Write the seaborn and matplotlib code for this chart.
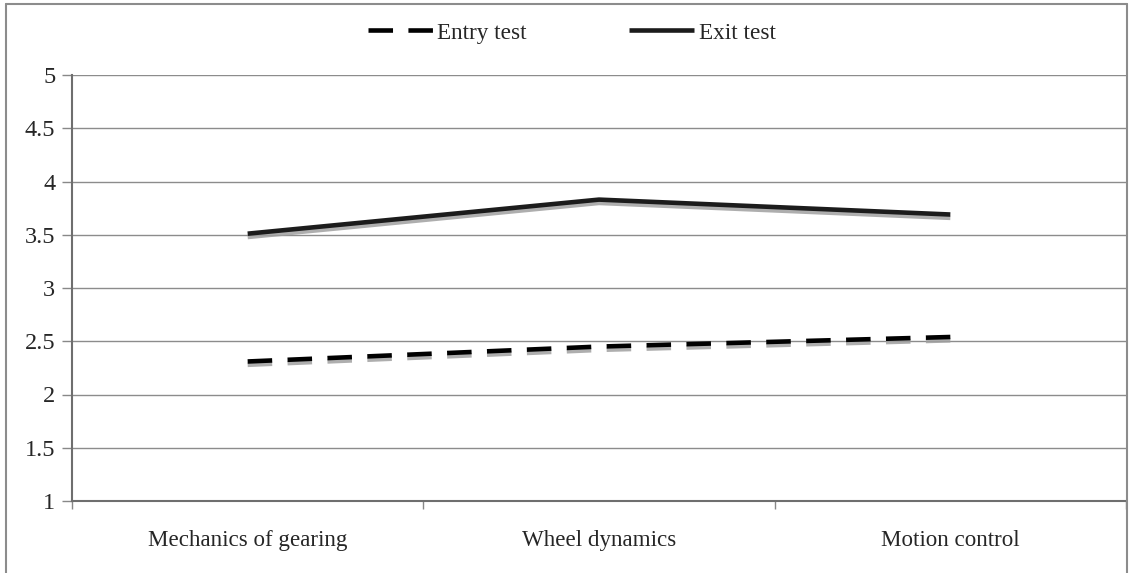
import pandas as pd
import matplotlib.pyplot as plt
import matplotlib.patheffects as pe
from matplotlib.lines import Line2D
import seaborn as sns

# Datos
categorias = ['Mechanics of gearing', 'Wheel dynamics', 'Motion control']
entry_test = [2.31, 2.45, 2.54]
exit_test = [3.51, 3.83, 3.69]

df = pd.DataFrame({
    'cat': categorias * 2,
    'valor': entry_test + exit_test,
    'serie': ['Entry test'] * 3 + ['Exit test'] * 3,
})

sns.set_style('white')
plt.rcParams['font.family'] = ['Liberation Serif', 'DejaVu Serif']

fig = plt.figure(figsize=(11.39, 5.73), dpi=100)
ax = fig.add_axes([72 / 1139, 1 - 501 / 573, (1126 - 72) / 1139, (501 - 75) / 573])

sombra = [pe.SimpleLineShadow(offset=(0, -2.4), shadow_color='#a0a0a0', alpha=0.85), pe.Normal()]

sns.lineplot(data=df[df.serie == 'Entry test'], x='cat', y='valor', ax=ax,
             color='black', linewidth=3.3, label='Entry test')
sns.lineplot(data=df[df.serie == 'Exit test'], x='cat', y='valor', ax=ax,
             color='#1c1c1c', linewidth=3.3, label='Exit test')
ax.lines[0].set_dashes((5.35, 3.36))
for ln in ax.lines:
    ln.set_path_effects(sombra)
    ln.set_solid_capstyle('butt')
    ln.set_dash_capstyle('butt')

ax.set_xlim(-0.5, 2.5)
ax.set_ylim(1, 5)
ax.set_yticks([1, 1.5, 2, 2.5, 3, 3.5, 4, 4.5, 5])
ax.set_yticklabels(['1', '1.5', '2', '2.5', '3', '3.5', '4', '4.5', '5'])
ax.set_xticks([-0.5, 0.5, 1.5, 2.5])
ax.set_xticklabels([])
ax.set_xticks([0, 1, 2], minor=True)
ax.set_xticklabels(categorias, minor=True)
ax.tick_params(axis='x', which='major', length=6, width=1, color='#888888', bottom=True)
ax.tick_params(axis='x', which='minor', length=0, pad=21, labelsize=16.6)
ax.tick_params(axis='y', length=7, width=1, color='#888888', left=True, labelsize=17.5, pad=5)
ax.set_xlabel('')
ax.set_ylabel('')

ax.grid(axis='y', color='#8c8c8c', linewidth=1)
ax.grid(axis='x', visible=False)
for lado in ['top', 'right']:
    ax.spines[lado].set_visible(False)
for lado in ['left', 'bottom']:
    ax.spines[lado].set_color('#6e6e6e')
    ax.spines[lado].set_linewidth(1.5)

ax.get_legend().remove()
handles = [Line2D([], [], color='black', linewidth=3.3, dashes=(5.35, 3.36), dash_capstyle='butt'),
           Line2D([], [], color='#1c1c1c', linewidth=3.3, solid_capstyle='butt')]
fig.legend(handles, ['Entry test', 'Exit test'], loc='center', bbox_to_anchor=(0.502, 1 - 33 / 573),
           ncol=2, frameon=False, fontsize=16.7, handlelength=2.8, handletextpad=0.2,
           columnspacing=4.4)

# Marco de la figura
borde = dict(color='#8c8c8c', linewidth=1.5, transform=fig.transFigure)
fig.add_artist(Line2D([6 / 1139, 6 / 1139], [-0.01, 1 - 4 / 573], **borde))
fig.add_artist(Line2D([6 / 1139, 1127 / 1139], [1 - 4 / 573, 1 - 4 / 573], **borde))
fig.add_artist(Line2D([1127 / 1139, 1127 / 1139], [-0.01, 1 - 4 / 573], **borde))

fig.savefig('out.png', dpi=100)
